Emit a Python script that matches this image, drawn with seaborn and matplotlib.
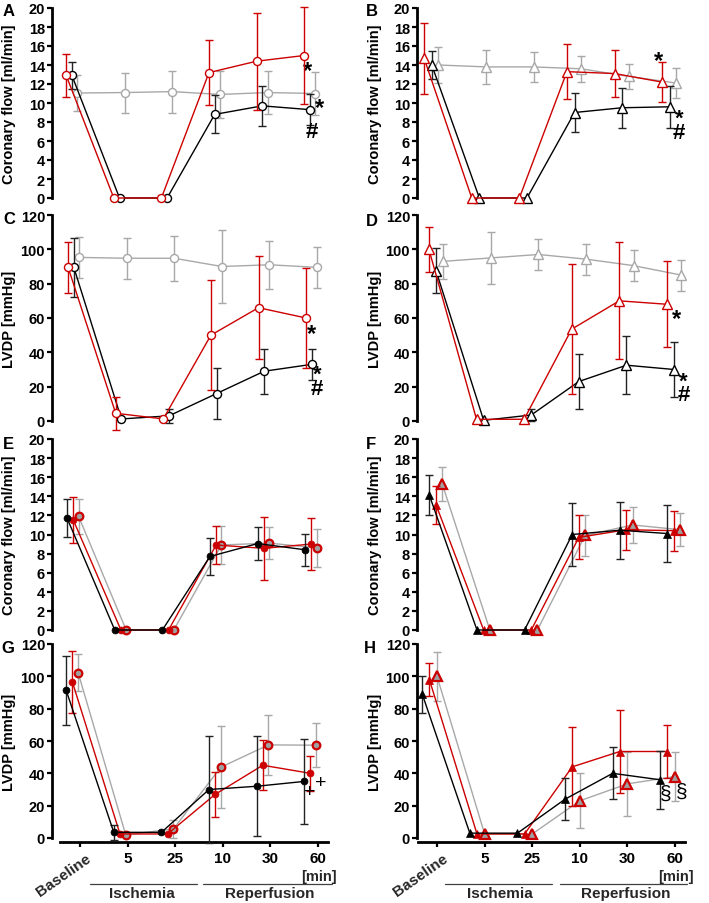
import numpy as np
import pandas as pd
import matplotlib
matplotlib.use('Agg')
import matplotlib.pyplot as plt
import matplotlib.transforms as mtransforms
import seaborn as sns

# ---------------- data ----------------
timepoints = ['Baseline', '5', '25', '10', '30', '60']

# Panel A: coronary flow [ml/min], open circles
A_red = [12.9, 0, 0, 13.2, 14.4, 15.0]
A_red_sd = [2.3, 0, 0, 3.4, 5.1, 5.1]
A_black = [12.9, 0, 0, 8.8, 9.7, 9.3]
A_black_sd = [1.4, 0, 0, 2.0, 2.1, 1.6]
A_gray = [11.05, 11.1, 11.2, 10.9, 11.1, 11.0]
A_gray_sd = [1.9, 2.1, 2.2, 2.5, 2.3, 2.3]

# Panel B: coronary flow [ml/min], open triangles
B_red = [14.7, 0, 0, 13.3, 13.1, 12.2]
B_red_sd = [3.7, 0, 0, 2.9, 2.5, 2.1]
B_black = [14.0, 0, 0, 9.0, 9.5, 9.6]
B_black_sd = [1.5, 0, 0, 2.1, 2.1, 2.2]
B_gray = [14.0, 13.8, 13.8, 13.6, 12.8, 12.1]
B_gray_sd = [1.9, 1.8, 1.6, 1.4, 1.35, 1.6]

# Panel C: LVDP [mmHg], open circles
C_red = [89.5, 4.5, 1.2, 50, 66, 60]
C_red_sd = [15, 9.7, 0, 32, 30, 29]
C_black = [89.5, 1.2, 3, 16, 29, 33]
C_black_sd = [17, 0, 4, 15, 13, 9]
C_gray = [95.3, 94.8, 94.8, 90, 91, 89.5]
C_gray_sd = [12, 12, 13, 21, 14, 12]

# Panel D: LVDP [mmHg], open triangles
D_red = [100, 1, 1, 53.5, 70, 68]
D_red_sd = [13, 0, 0, 38, 34, 25]
D_black = [87.5, 0.4, 3.5, 23, 32.5, 30]
D_black_sd = [13, 0, 3.5, 16, 17, 16]
D_gray = [93, 95, 97, 94.3, 90.5, 85]
D_gray_sd = [10, 15, 9, 9, 9, 9]

# Panel E: coronary flow [ml/min], filled circles
E_black = [11.7, 0, 0, 7.7, 9.05, 8.4]
E_black_sd = [2.0, 0, 0, 1.9, 1.7, 1.7]
E_red = [11.5, 0, 0, 8.9, 8.55, 9.0]
E_red_sd = [2.4, 0, 0, 2.0, 3.3, 2.7]
E_gray = [11.9, 0, 0, 8.9, 9.1, 8.6]
E_gray_sd = [1.8, 0, 0, 2.0, 1.7, 2.0]

# Panel F: coronary flow [ml/min], filled triangles
F_black = [14.1, 0, 0, 10.0, 10.45, 10.1]
F_black_sd = [2.1, 0, 0, 3.3, 3.0, 3.0]
F_red = [13.1, 0, 0, 9.7, 10.5, 10.4]
F_red_sd = [2.0, 0, 0, 2.3, 2.1, 2.1]
F_gray = [15.3, 0, 0, 9.9, 11.0, 10.5]
F_gray_sd = [1.75, 0, 0, 2.1, 1.9, 1.7]

# Panel G: LVDP [mmHg], filled circles
G_black = [91.3, 3.5, 3.5, 30, 32, 35]
G_black_sd = [21.5, 4.5, 0, 33, 31, 26.5]
G_red = [96.5, 2.5, 2.5, 27, 45, 40]
G_red_sd = [19, 0, 0, 14, 15.5, 11]
G_gray = [102.3, 2, 5.5, 43.8, 57.6, 57.4]
G_gray_sd = [11.5, 0, 5.5, 25.5, 18.5, 13.5]

# Panel H: LVDP [mmHg], filled triangles
H_black = [89, 3, 3, 24, 40, 36]
H_black_sd = [11.5, 0, 0, 13, 16, 18]
H_red = [98, 2.5, 2.5, 44, 53.5, 53.5]
H_red_sd = [10, 0, 0, 24.5, 25.5, 16.5]
H_gray = [100, 2.5, 2.5, 23, 33.5, 38]
H_gray_sd = [15, 0, 0, 17, 20, 15]

# ---------------- style ----------------
sns.set_theme(style='ticks')
plt.rcParams['font.family'] = ['Liberation Sans', 'DejaVu Sans']
plt.rcParams['font.weight'] = 'bold'
plt.rcParams['axes.labelweight'] = 'bold'

RED = '#CC0000'
GRAY = '#A8A8A8'
BLACK = '#000000'
EBLACK = '#222222'
FILLGRAY = '#A0A0A0'

FW, FH = 709, 904
fig = plt.figure(figsize=(FW / 100, FH / 100), dpi=100)

SP = 47.6  # px per category
cols = {
    'L': dict(left=52, x0=80, width=288, bounds=(-0.42, 5.21), lab=-0.125),
    'R': dict(left=417, x0=437, width=282, bounds=(-0.40, 5.21), lab=-0.124),
}
rows = {
    1: dict(y0=199, ytop=9, top=20, step=2, label='Coronary flow [ml/min]'),
    2: dict(y0=422, ytop=216, top=120, step=20, label='LVDP [mmHg]'),
    3: dict(y0=631, ytop=440, top=20, step=2, label='Coronary flow [ml/min]'),
    4: dict(y0=839, ytop=645, top=120, step=20, label='LVDP [mmHg]'),
}


def make_ax(col, row):
    c, r = cols[col], rows[row]
    ax = fig.add_axes([c['left'] / FW, (FH - r['y0']) / FH,
                       c['width'] / FW, (r['y0'] - r['ytop']) / FH])
    ax.patch.set_alpha(0)
    return ax


def finish_ax(ax, col, row):
    c, r = cols[col], rows[row]
    lo = -(c['x0'] - c['left']) / SP
    ax.set_xlim(lo, lo + c['width'] / SP)
    ax.set_ylim(0, r['top'])
    ticks = np.arange(0, r['top'] + 0.1, r['step'])
    ax.set_yticks(ticks)
    ax.set_yticklabels([f"{int(v)}" for v in ticks])
    for s in ['top', 'right']:
        ax.spines[s].set_visible(False)
    ax.spines['left'].set_linewidth(2.0)
    ax.spines['left'].set_color('black')
    ax.spines['left'].set_bounds(0, r['top'])
    ax.tick_params(axis='y', direction='out', length=3.5, width=1.6,
                   labelsize=10.5, pad=1.5, colors='black')
    ax.set_ylabel(r['label'], fontsize=10.5, fontweight='bold', color='black')
    ax.yaxis.set_label_coords(c['lab'], 0.5)
    ax.set_xlabel('')


def draw_series(ax, means, sds, offset, color, marker, mfc, mec, ecolor,
                ms, mew, z):
    x = np.arange(len(means)) + offset
    df = pd.DataFrame({'x': x, 'y': means})
    sd = np.asarray(sds, dtype=float)
    m = sd > 0
    eb = ax.errorbar(x[m], np.asarray(means)[m], yerr=sd[m], fmt='none',
                     ecolor=ecolor, elinewidth=1.0, capsize=2.8,
                     capthick=1.0, zorder=z)
    for art in list(eb.lines[1]) + list(eb.lines[2]):
        art.set_clip_on(False)
    sns.lineplot(data=df, x='x', y='y', ax=ax, color=color, lw=1.0,
                 marker=marker, markersize=ms, markerfacecolor=mfc,
                 markeredgecolor=mec, markeredgewidth=mew,
                 errorbar=None, clip_on=False, zorder=z + 0.5)


def annotate(ax, s, x, y, size, weight='normal'):
    # (x, y) is glyph centre; shift baseline down accordingly
    centre = {'*': 0.58, '#': 0.36, '+': 0.35, '§': 0.27}[s]
    ax.annotate(s, (x, y), xytext=(0, -centre * size), textcoords='offset points',
                ha='center', va='baseline', fontsize=size, fontweight=weight,
                color='black', annotation_clip=False)


def star_hash(ax, x, y_hash, size=16):
    # '*' stacked directly above '#'; (x, y_hash) is the centre of '#'
    ax.annotate('*\n#', (x, y_hash), xytext=(0, -0.36 * size),
                textcoords='offset points', ha='center', va='baseline',
                multialignment='center', linespacing=0.55, fontsize=size,
                fontweight='bold', color='black', annotation_clip=False)


def x_axis(ax, col, isch, rep, isch_c, rep_c):
    c = cols[col]
    ax.spines['bottom'].set_visible(True)
    ax.spines['bottom'].set_linewidth(2.0)
    ax.spines['bottom'].set_color('black')
    ax.spines['bottom'].set_position(('outward', 3))
    ax.spines['bottom'].set_bounds(*c['bounds'])
    ax.set_xticks(range(6))
    ax.set_xticklabels([''] + timepoints[1:], fontsize=11, fontweight='bold')
    ax.tick_params(axis='x', direction='out', length=3.5, width=1.6, pad=3,
                   colors='black')
    tr = mtransforms.blended_transform_factory(ax.transData, fig.transFigure)
    ax.text(0.12, (FH - 852) / FH, timepoints[0], rotation=35, ha='right',
            va='top', rotation_mode='anchor', transform=tr, fontsize=11,
            fontweight='bold')
    ax.text(5.03, (FH - 877) / FH, '[min]', ha='center', va='center',
            transform=tr, fontsize=10.5, fontweight='bold')
    ly = (FH - 885) / FH
    ax.plot(isch, [ly, ly], transform=tr, color='#404040', lw=0.9, clip_on=False)
    ax.plot(rep, [ly, ly], transform=tr, color='#404040', lw=0.9, clip_on=False)
    ax.text(isch_c, (FH - 894) / FH, 'Ischemia', ha='center', va='center',
            transform=tr, fontsize=11, fontweight='bold')
    ax.text(rep_c, (FH - 894) / FH, 'Reperfusion', ha='center', va='center',
            transform=tr, fontsize=11, fontweight='bold')


def hide_x(ax):
    ax.spines['bottom'].set_visible(False)
    ax.set_xticks([])


STAR = 17
SW = 'bold'

# A
ax = make_ax('L', 1)
draw_series(ax, A_gray, A_gray_sd, -0.06, GRAY, 'o', 'white', GRAY, GRAY, 5.8, 1.0, 2)
draw_series(ax, A_black, A_black_sd, -0.17, BLACK, 'o', 'white', BLACK, EBLACK, 5.8, 1.0, 3)
draw_series(ax, A_red, A_red_sd, -0.29, RED, 'o', 'white', RED, RED, 5.8, 1.0, 4)
finish_ax(ax, 'L', 1); hide_x(ax)
annotate(ax, '*', 4.78, 14.2, STAR, SW)
annotate(ax, '*', 5.04, 10.3, STAR, SW)
annotate(ax, '#', 4.88, 7.3, 16, SW)

# B
ax = make_ax('R', 1)
draw_series(ax, B_gray, B_gray_sd, 0.03, GRAY, '^', 'white', GRAY, GRAY, 6.8, 1.0, 2)
draw_series(ax, B_black, B_black_sd, -0.11, BLACK, '^', 'white', BLACK, EBLACK, 6.8, 1.0, 3)
draw_series(ax, B_red, B_red_sd, -0.27, RED, '^', 'white', RED, RED, 6.8, 1.0, 4)
finish_ax(ax, 'R', 1); hide_x(ax)
annotate(ax, '*', 4.66, 15.2, STAR, SW)
star_hash(ax, 5.08, 7.2)

# C
ax = make_ax('L', 2)
draw_series(ax, C_gray, C_gray_sd, -0.02, GRAY, 'o', 'white', GRAY, GRAY, 5.8, 1.0, 2)
draw_series(ax, C_black, C_black_sd, -0.13, BLACK, 'o', 'white', BLACK, EBLACK, 5.8, 1.0, 3)
draw_series(ax, C_red, C_red_sd, -0.25, RED, 'o', 'white', RED, RED, 5.8, 1.0, 4)
finish_ax(ax, 'L', 2); hide_x(ax)
annotate(ax, '*', 4.86, 55.0, STAR, SW)
star_hash(ax, 4.98, 20.5)

# D
ax = make_ax('R', 2)
draw_series(ax, D_gray, D_gray_sd, 0.13, GRAY, '^', 'white', GRAY, GRAY, 6.8, 1.0, 2)
draw_series(ax, D_black, D_black_sd, -0.02, BLACK, '^', 'white', BLACK, EBLACK, 6.8, 1.0, 3)
draw_series(ax, D_red, D_red_sd, -0.17, RED, '^', 'white', RED, RED, 6.8, 1.0, 4)
finish_ax(ax, 'R', 2); hide_x(ax)
annotate(ax, '*', 5.04, 64.0, STAR, SW)
star_hash(ax, 5.18, 16.8)

# E
ax = make_ax('L', 3)
draw_series(ax, E_gray, E_gray_sd, -0.03, GRAY, 'o', FILLGRAY, RED, GRAY, 5.5, 1.6, 2)
draw_series(ax, E_red, E_red_sd, -0.14, RED, 'o', RED, RED, RED, 5.0, 0.5, 3)
draw_series(ax, E_black, E_black_sd, -0.27, BLACK, 'o', BLACK, BLACK, EBLACK, 5.0, 0.5, 4)
finish_ax(ax, 'L', 3); hide_x(ax)

# F
ax = make_ax('R', 3)
draw_series(ax, F_gray, F_gray_sd, 0.11, GRAY, '^', FILLGRAY, RED, GRAY, 6.5, 1.6, 2)
draw_series(ax, F_red, F_red_sd, -0.02, RED, '^', RED, RED, RED, 6.0, 0.5, 3)
draw_series(ax, F_black, F_black_sd, -0.16, BLACK, '^', BLACK, BLACK, EBLACK, 6.0, 0.5, 4)
finish_ax(ax, 'R', 3); hide_x(ax)

# G
ax = make_ax('L', 4)
draw_series(ax, G_gray, G_gray_sd, -0.04, GRAY, 'o', FILLGRAY, RED, GRAY, 5.5, 1.6, 2)
draw_series(ax, G_red, G_red_sd, -0.16, RED, 'o', RED, RED, RED, 5.0, 0.5, 3)
draw_series(ax, G_black, G_black_sd, -0.29, BLACK, 'o', BLACK, BLACK, EBLACK, 5.0, 0.5, 4)
finish_ax(ax, 'L', 4)
annotate(ax, '+', 4.82, 30.4, 14)
annotate(ax, '+', 5.06, 35.5, 14)
x_axis(ax, 'L', [0.21, 2.46], [2.58, 5.29], 1.30, 3.99)

# H
ax = make_ax('R', 4)
draw_series(ax, H_gray, H_gray_sd, 0.0, GRAY, '^', FILLGRAY, RED, GRAY, 6.5, 1.6, 2)
draw_series(ax, H_red, H_red_sd, -0.16, RED, '^', RED, RED, RED, 6.0, 0.5, 3)
draw_series(ax, H_black, H_black_sd, -0.31, BLACK, '^', BLACK, BLACK, EBLACK, 6.0, 0.5, 4)
finish_ax(ax, 'R', 4)
annotate(ax, '§', 4.80, 27.9, 15)
annotate(ax, '§', 5.13, 29.3, 15)
x_axis(ax, 'R', [0.17, 2.42], [2.58, 5.25], 1.32, 3.97)

# panel letters
letters = [('A', 3, 4), ('B', 366, 4), ('C', 3, 212), ('D', 366, 214),
           ('E', 3, 437), ('F', 366, 437), ('G', 1, 641), ('H', 364, 641)]
for s, px, py in letters:
    fig.text(px / FW, 1 - py / FH, s, ha='left', va='top', fontsize=12,
             fontweight='bold', color='black')

fig.savefig('out.png', dpi=100)
